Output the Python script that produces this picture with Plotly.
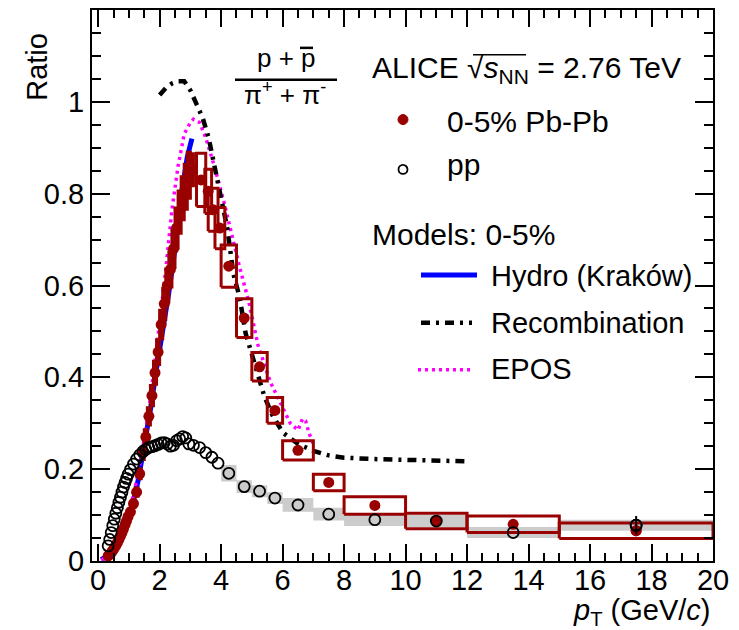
import plotly.graph_objects as go

# ---------------- data ----------------
# Pb-Pb 0-5% (p+pbar)/(pi+ + pi-)
pbpb_pt = [0.325, 0.375, 0.425, 0.475, 0.525, 0.575, 0.625, 0.675, 0.725, 0.775,
           0.825, 0.875, 0.925, 0.975,
           1.05, 1.15, 1.25, 1.35, 1.45, 1.55, 1.65, 1.75, 1.85, 1.95,
           2.05, 2.15, 2.25, 2.35, 2.45, 2.55, 2.65, 2.75, 2.85, 2.95,
           3.05, 3.35, 3.58, 3.74, 3.96,
           4.25, 4.75, 5.25, 5.75, 6.5, 7.5, 9.0, 11.0, 13.5, 17.5]
pbpb_ratio = [0.011, 0.014, 0.018, 0.023, 0.028, 0.034, 0.040, 0.047, 0.054, 0.062,
              0.070, 0.079, 0.088, 0.097,
              0.107, 0.125, 0.150, 0.190, 0.235, 0.270, 0.315, 0.360, 0.410, 0.455,
              0.515, 0.560, 0.600, 0.635, 0.680, 0.725, 0.760, 0.790, 0.815, 0.840,
              0.852, 0.830, 0.805, 0.765, 0.725,
              0.642, 0.529, 0.423, 0.328, 0.241, 0.171, 0.121, 0.087, 0.080, 0.066]
pbpb_binhalf = [0.025, 0.025, 0.025, 0.025, 0.025, 0.025, 0.025, 0.025, 0.025, 0.025,
                0.025, 0.025, 0.025, 0.025,
                0.05, 0.05, 0.05, 0.05, 0.05, 0.05, 0.05, 0.05, 0.05, 0.05,
                0.05, 0.05, 0.05, 0.05, 0.05, 0.05, 0.05, 0.05, 0.05, 0.05,
                0.05, 0.15, 0.11, 0.16, 0.16,
                0.25, 0.25, 0.25, 0.25, 0.5, 0.5, 1.0, 1.0, 1.5, 2.5]
pbpb_syst = [0.001, 0.001, 0.001, 0.002, 0.002, 0.002, 0.003, 0.003, 0.003, 0.004,
             0.004, 0.005, 0.005, 0.006,
             0.006, 0.008, 0.009, 0.011, 0.014, 0.016, 0.019, 0.022, 0.025, 0.027,
             0.031, 0.034, 0.036, 0.038, 0.041, 0.044, 0.046, 0.047, 0.049, 0.050,
             0.035, 0.058, 0.048, 0.047, 0.045,
             0.046, 0.042, 0.031, 0.028, 0.021, 0.018, 0.019, 0.017, 0.018, 0.017]
pbpb_stat_pt = [17.5]
pbpb_stat_ratio = [0.066]
pbpb_stat_err = [0.012]

# pp
pp_pt = [0.325, 0.375, 0.425, 0.475, 0.525, 0.575, 0.625, 0.675, 0.725, 0.775,
         0.825, 0.875, 0.925, 0.975,
         1.05, 1.15, 1.25, 1.35, 1.45, 1.55, 1.65, 1.75, 1.85, 1.95,
         2.05, 2.15, 2.25, 2.35, 2.45, 2.55, 2.65, 2.75, 2.85, 2.95,
         3.1, 3.3, 3.5, 3.7, 3.9,
         4.25, 4.75, 5.25, 5.75, 6.5, 7.5, 9.0, 11.0, 13.5, 17.5]
pp_ratio = [0.033, 0.047, 0.062, 0.077, 0.091, 0.104, 0.116, 0.128, 0.139, 0.150,
            0.161, 0.171, 0.180, 0.189,
            0.199, 0.211, 0.222, 0.231, 0.238, 0.243, 0.247, 0.249, 0.251, 0.254,
            0.257, 0.258, 0.255, 0.250, 0.252, 0.262, 0.266, 0.271, 0.268, 0.255,
            0.252, 0.247, 0.236, 0.226, 0.213,
            0.191, 0.162, 0.152, 0.137, 0.122, 0.102, 0.090, 0.087, 0.062, 0.078]
pp_sys_pt = [4.25, 4.75, 5.25, 5.75, 6.5, 7.5, 9.0, 11.0, 13.5, 17.5]
pp_sys_ratio = [0.191, 0.162, 0.152, 0.137, 0.122, 0.102, 0.090, 0.087, 0.062, 0.078]
pp_sys_binhalf = [0.25, 0.25, 0.25, 0.25, 0.5, 0.5, 1.0, 1.0, 1.5, 2.5]
pp_sys_err = [0.018, 0.014, 0.013, 0.013, 0.015, 0.014, 0.014, 0.013, 0.012, 0.012]
pp_stat_pt = [17.5]
pp_stat_ratio = [0.078]
pp_stat_err = [0.020]

# Models (0-5%)
hydro_pt = [0.1, 0.3, 0.5, 0.7, 0.9, 1.1, 1.3, 1.5, 1.7, 1.9, 2.1, 2.3, 2.5, 2.7, 2.9, 3.05]
hydro_ratio = [0.003, 0.011, 0.025, 0.047, 0.078, 0.118, 0.175, 0.250, 0.330, 0.420,
               0.500, 0.585, 0.680, 0.795, 0.880, 0.920]

recomb_pt = [2.0, 2.2, 2.4, 2.6, 2.8, 3.0, 3.2, 3.4, 3.6, 3.8, 4.0, 4.2, 4.4, 4.6, 4.8,
             5.0, 5.4, 5.65, 6.0, 6.5, 7.0, 7.5, 8.0, 9.0, 10.0, 11.0, 12.0]
recomb_ratio = [1.015, 1.030, 1.040, 1.045, 1.045, 1.025, 0.995, 0.965, 0.920, 0.855,
                0.785, 0.725, 0.625, 0.575, 0.495, 0.450, 0.360, 0.320, 0.280, 0.255,
                0.240, 0.230, 0.225, 0.222, 0.221, 0.219, 0.217]

epos_pt = [0.1, 0.3, 0.5, 0.7, 0.9, 1.1, 1.3, 1.5, 1.7, 1.9, 2.0, 2.2, 2.4, 2.6, 2.8,
           3.0, 3.1, 3.3, 3.5, 3.8, 4.1, 4.35, 4.6, 4.9, 5.2, 5.6, 6.0, 6.25, 6.5,
           6.65, 6.75, 6.85, 7.0]
epos_ratio = [0.002, 0.010, 0.025, 0.050, 0.085, 0.130, 0.190, 0.265, 0.355, 0.460,
              0.520, 0.635, 0.765, 0.860, 0.930, 0.955, 0.962, 0.955, 0.922, 0.855,
              0.780, 0.710, 0.640, 0.565, 0.470, 0.390, 0.335, 0.300, 0.285, 0.310,
              0.305, 0.280, 0.255]

x_ticks = [0, 2, 4, 6, 8, 10, 12, 14, 16, 18, 20]
y_ticks = [0, 0.2, 0.4, 0.6, 0.8, 1.0]

# ---------------- styling / layout ----------------
W, H = 739, 630
ML, MR, MT, MB = 92, 26, 8, 69
PW, PH = W - ML - MR, H - MT - MB
FONT = "Liberation Sans, Arial, Helvetica, sans-serif"
RED = "#990000"
RECOMB_DASH = "9px,6px,3px,6px"
EPOS_DASH = "3px,4px"


def X(px):
    return (px - ML) / PW


def Y(py):
    return (H - MB - py) / PH


def box_path(xc, yc, hw, dy):
    xs, ys = [], []
    for a, b, c, d in zip(xc, yc, hw, dy):
        xs += [a - c, a + c, a + c, a - c, a - c, None]
        ys += [b - d, b - d, b + d, b + d, b - d, None]
    return xs, ys


fig = go.Figure()

# pp systematic boxes (grey filled)
gx, gy = box_path(pp_sys_pt, pp_sys_ratio, pp_sys_binhalf, pp_sys_err)
fig.add_trace(go.Scatter(x=gx, y=gy, mode="lines", fill="toself",
                         fillcolor="#cccccc", line=dict(width=0, color="#cccccc"),
                         hoverinfo="skip", showlegend=False))

# models
fig.add_trace(go.Scatter(x=hydro_pt, y=hydro_ratio, mode="lines",
                         line=dict(color="#0000ff", width=5), showlegend=False))
fig.add_trace(go.Scatter(x=epos_pt, y=epos_ratio, mode="lines",
                         line=dict(color="#ff00ff", width=3.5, dash=EPOS_DASH),
                         showlegend=False))
fig.add_trace(go.Scatter(x=recomb_pt, y=recomb_ratio, mode="lines",
                         line=dict(color="black", width=4.5, dash=RECOMB_DASH),
                         showlegend=False))

# Pb-Pb systematic boxes
rx, ry = box_path(pbpb_pt, pbpb_ratio, pbpb_binhalf, pbpb_syst)
fig.add_trace(go.Scatter(x=rx, y=ry, mode="lines", line=dict(color=RED, width=3),
                         hoverinfo="skip", showlegend=False))

# Pb-Pb points
fig.add_trace(go.Scatter(x=pbpb_pt, y=pbpb_ratio, mode="markers",
                         marker=dict(symbol="circle", size=11, color=RED),
                         showlegend=False))
fig.add_trace(go.Scatter(x=pbpb_stat_pt, y=pbpb_stat_ratio, mode="markers",
                         marker=dict(size=11, color=RED),
                         error_y=dict(type="data", array=pbpb_stat_err, color=RED,
                                      thickness=2, width=0),
                         showlegend=False))

# pp points
fig.add_trace(go.Scatter(x=pp_pt, y=pp_ratio, mode="markers",
                         marker=dict(symbol="circle-open", size=11, color="black",
                                     line=dict(width=1.8, color="black")),
                         showlegend=False))
fig.add_trace(go.Scatter(x=pp_stat_pt, y=pp_stat_ratio, mode="markers",
                         marker=dict(symbol="circle-open", size=11, color="black",
                                     line=dict(width=1.8, color="black")),
                         error_y=dict(type="data", array=pp_stat_err, color="black",
                                      thickness=2, width=0),
                         showlegend=False))

axis_common = dict(showline=True, linewidth=2, linecolor="black", mirror="ticks",
                   ticks="inside", tickwidth=2, tickcolor="black",
                   showgrid=False, zeroline=False,
                   tickfont=dict(family=FONT, size=29, color="black"))

fig.update_xaxes(range=[-0.2, 20], tickmode="array", tickvals=x_ticks, ticklen=17,
                 ticklabelstandoff=-8,
                 minor=dict(tickmode="linear", tick0=0, dtick=0.5, ticklen=8,
                            tickwidth=2, tickcolor="black", ticks="inside"),
                 **axis_common)
fig.update_yaxes(range=[0, 1.2], tickmode="array", tickvals=y_ticks, ticklen=18,
                 minor=dict(tickmode="linear", tick0=0, dtick=0.05, ticklen=9,
                            tickwidth=2, tickcolor="black", ticks="inside"),
                 **axis_common)

annotations = []
shapes = []


def txt(s, px, py, size=29, xanchor="left", **kw):
    annotations.append(dict(text=s, x=X(px), y=Y(py), xref="paper", yref="paper",
                            xanchor=xanchor, yanchor="middle", showarrow=False,
                            font=dict(family=FONT, size=size, color="black"), **kw))


# axis titles
txt("Ratio", 37, 65, textangle=-90, xanchor="center")
txt("<i>p</i><sub>T</sub> (GeV/<i>c</i>)", 713, 612, xanchor="right")

# fraction label
txt("p + p", 286, 56, size=26, xanchor="center")
txt("π<sup>+</sup> + π<sup>-</sup>", 285, 92, size=26, xanchor="center")
shapes.append(dict(type="line", xref="paper", yref="paper", x0=X(235), x1=X(337),
                   y0=Y(78), y1=Y(78), line=dict(color="black", width=2.5)))
shapes.append(dict(type="line", xref="paper", yref="paper", x0=X(300), x1=X(313),
                   y0=Y(46), y1=Y(46), line=dict(color="black", width=2.5)))

# legend
txt("ALICE √<i>s</i><sub>NN</sub> = 2.76 TeV", 370, 68, size=30)
shapes.append(dict(type="line", xref="paper", yref="paper", x0=X(473), x1=X(526),
                   y0=Y(53), y1=Y(53), line=dict(color="black", width=1.5)))
shapes.append(dict(type="circle", xref="paper", yref="paper", x0=X(398), x1=X(408),
                   y0=Y(113), y1=Y(123), fillcolor=RED, line=dict(color=RED, width=1)))
txt("0-5% Pb-Pb", 445, 120, size=30)
shapes.append(dict(type="circle", xref="paper", yref="paper", x0=X(398.5), x1=X(407.5),
                   y0=Y(163.5), y1=Y(172.5), fillcolor="white",
                   line=dict(color="black", width=1.8)))
txt("pp", 445, 163, size=30)
txt("Models: 0-5%", 370, 233, size=30)
shapes.append(dict(type="line", xref="paper", yref="paper", x0=X(421), x1=X(477),
                   y0=Y(274), y1=Y(274), line=dict(color="#0000ff", width=5)))
txt("Hydro (Kraków)", 489, 275)
shapes.append(dict(type="line", xref="paper", yref="paper", x0=X(421), x1=X(472),
                   y0=Y(322), y1=Y(322),
                   line=dict(color="black", width=4.5, dash=RECOMB_DASH)))
txt("Recombination", 489, 322)
shapes.append(dict(type="line", xref="paper", yref="paper", x0=X(418), x1=X(473),
                   y0=Y(369), y1=Y(369),
                   line=dict(color="#ff00ff", width=3.5, dash=EPOS_DASH)))
txt("EPOS", 489, 368)

fig.update_layout(width=W, height=H, margin=dict(l=ML, r=MR, t=MT, b=MB),
                  paper_bgcolor="white", plot_bgcolor="white",
                  font=dict(family=FONT, size=29, color="black"),
                  annotations=annotations, shapes=shapes, showlegend=False)

fig.write_html("out.html")
